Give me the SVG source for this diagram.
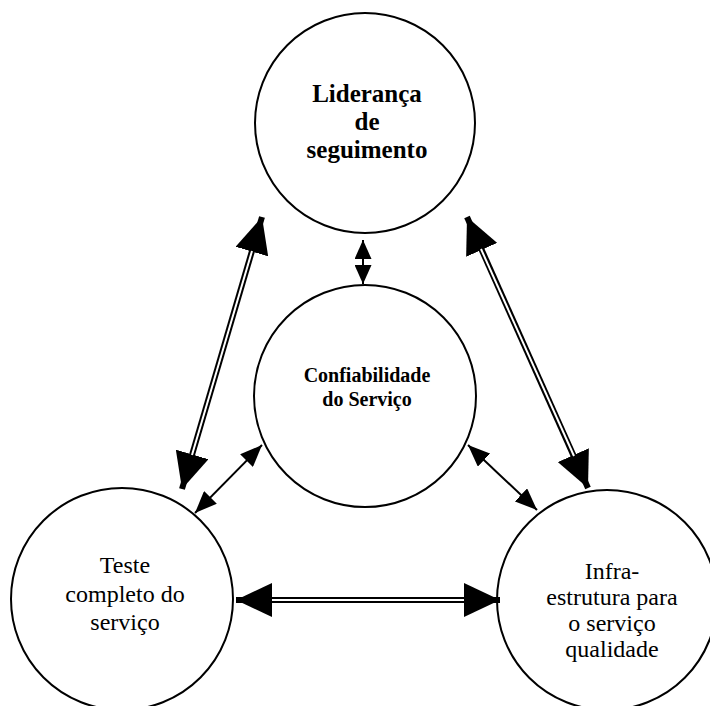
<svg xmlns="http://www.w3.org/2000/svg" width="710" height="706" viewBox="0 0 710 706">
<style>
.node circle{fill:#fff;stroke:#000;stroke-width:2}
.t{font-family:"Liberation Serif","Times New Roman",serif;text-anchor:middle;fill:#000}
.b{font-weight:bold}
.dbl{stroke:#000;stroke-width:6;fill:none}
.gap{stroke:#fff;stroke-width:2;fill:none}
.sgl{stroke:#000;stroke-width:2;fill:none}
</style>
<defs>
<marker id="big" viewBox="0 0 36 34" refX="36" refY="17" markerWidth="36" markerHeight="34" markerUnits="userSpaceOnUse" orient="auto-start-reverse">
<path d="M0,0 L36,17 L0,34 z" fill="#000"/>
</marker>
<marker id="small" viewBox="0 0 22 18" refX="22" refY="9" markerWidth="22" markerHeight="18" markerUnits="userSpaceOnUse" orient="auto-start-reverse">
<path d="M0,0 L22,9 L0,18 z" fill="#000"/>
</marker>
<marker id="tiny" viewBox="0 0 19 17" refX="19" refY="8.5" markerWidth="19" markerHeight="17" markerUnits="userSpaceOnUse" orient="auto-start-reverse">
<path d="M0,0 L19,8.5 L0,17 z" fill="#000"/>
</marker>
</defs>
<rect width="710" height="706" fill="#fff"/>
<g id="n-lideranca" class="node">
<circle cx="365" cy="123" r="110"/>
<text class="t b" font-size="25" x="367" y="102">Liderança</text>
<text class="t b" font-size="25" x="367" y="130">de</text>
<text class="t b" font-size="25" x="367" y="158">seguimento</text>
</g>
<g id="n-confiabilidade" class="node">
<circle cx="365" cy="396" r="111"/>
<text class="t b" font-size="20" x="367" y="382">Confiabilidade</text>
<text class="t b" font-size="20" x="367" y="406">do Serviço</text>
</g>
<g id="n-teste" class="node">
<circle cx="122" cy="599" r="111"/>
<text class="t" font-size="24" x="125" y="573">Teste</text>
<text class="t" font-size="24" x="125" y="602">completo do</text>
<text class="t" font-size="24" x="125" y="630">serviço</text>
</g>
<g id="n-infra" class="node">
<circle cx="607" cy="600" r="110"/>
<text class="t" font-size="24" x="612" y="579">Infra-</text>
<text class="t" font-size="24" x="612" y="605">estrutura para</text>
<text class="t" font-size="24" x="612" y="631">o serviço</text>
<text class="t" font-size="24" x="612" y="657">qualidade</text>
</g>
<g id="connectors">
<line class="dbl" x1="262" y1="217" x2="182" y2="489" marker-start="url(#big)" marker-end="url(#big)"/>
<line class="gap" x1="252" y1="251" x2="192" y2="455"/>
<line class="dbl" x1="467" y1="217" x2="588" y2="488" marker-start="url(#big)" marker-end="url(#big)"/>
<line class="gap" x1="481" y1="249" x2="574" y2="456"/>
<line class="dbl" x1="236" y1="600" x2="500" y2="600" marker-start="url(#big)" marker-end="url(#big)"/>
<line class="gap" x1="272" y1="600" x2="464" y2="600"/>
<line class="sgl" x1="363" y1="240" x2="363" y2="284" marker-start="url(#tiny)" marker-end="url(#tiny)"/>
<line class="sgl" x1="262" y1="445" x2="195" y2="513" marker-start="url(#small)" marker-end="url(#small)"/>
<line class="sgl" x1="468" y1="445" x2="537" y2="510" marker-start="url(#small)" marker-end="url(#small)"/>
</g>
</svg>
